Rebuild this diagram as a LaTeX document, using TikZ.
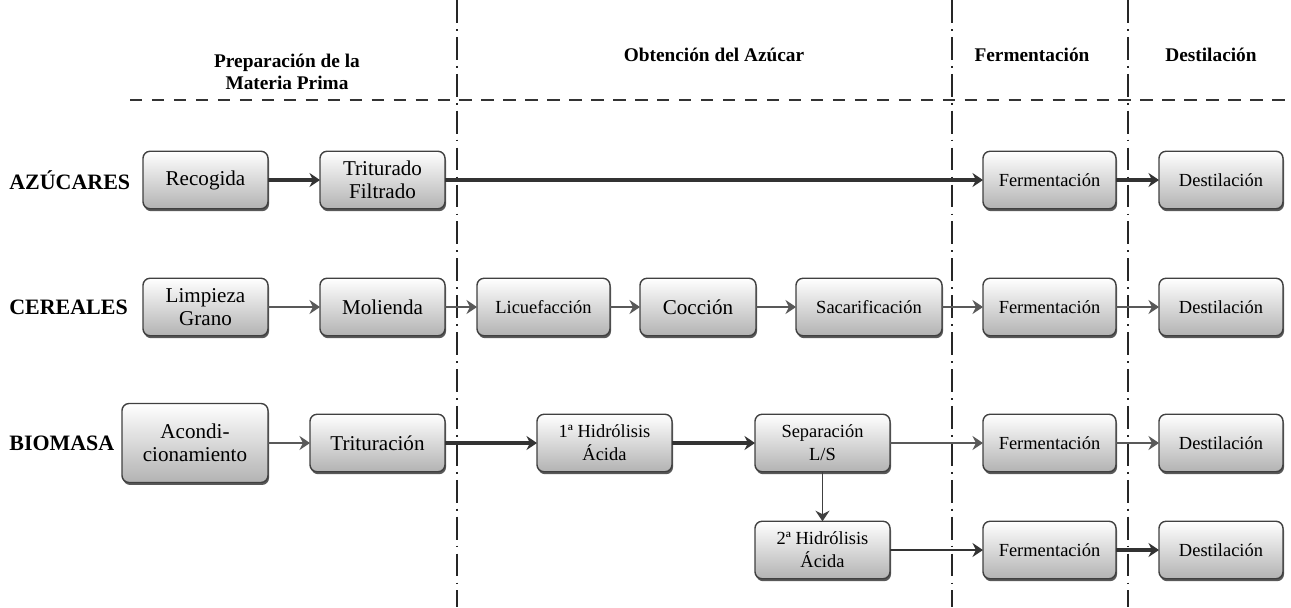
\documentclass[tikz,border=0pt]{standalone}
\usepackage{fontspec}
\setmainfont{Liberation Serif}
\usetikzlibrary{arrows.meta, positioning, shadows}

\begin{document}
\begin{tikzpicture}[font=\fontsize{12}{13}\selectfont, >={Stealth[length=6pt,width=8pt]},
    box/.style={draw=black!75, line width=0.8pt, rounded corners=4pt, top color=white, bottom color=black!30,
        minimum height=1.15cm, align=center, inner sep=2pt, outer sep=0pt,
        drop shadow={shadow xshift=0.6pt, shadow yshift=-1.4pt, fill=black!65, opacity=1}},
    sbox/.style={box, font=\fontsize{10.5}{13}\selectfont},
    fase/.style={font=\bfseries\fontsize{11}{12.5}\selectfont, align=center},
    fila/.style={font=\bfseries\fontsize{12.5}{14}\selectfont, anchor=west, inner sep=0pt},
    divisoria/.style={black!85, line width=1.6pt, dash pattern=on 13pt off 3.5pt on 1pt off 3.5pt},
    gruesa/.style={->, black!80, line width=2.2pt},
    media/.style={->, black!65, line width=1.5pt},
    fina/.style={->, black!75, line width=0.9pt}]
    \useasboundingbox (0,0) rectangle (25.82,-12.14);

    % fases
    \draw[divisoria] (9.14,0) -- (9.14,-12.14);
    \draw[divisoria] (19.04,0) -- (19.04,-12.14);
    \draw[divisoria] (22.56,0) -- (22.56,-12.14);
    \draw[black!80, line width=1.6pt, dash pattern=on 7pt off 5.5pt] (2.6,-2.0) -- (25.82,-2.0);
    \node[fase] (fprep) at (5.74,-1.44) {Preparación de la\\Materia Prima};
    \node[fase] (fobt) at (14.28,-1.1) {Obtención del Azúcar};
    \node[fase] (fferm) at (20.64,-1.1) {Fermentación};
    \node[fase] (fdest) at (24.22,-1.1) {Destilación};

    % azucares
    \node[fila] (azu) at (0.18,-3.6) {AZÚCARES};
    \node[box, minimum width=2.5cm] (rec) at (4.11,-3.6) {Recogida};
    \node[box, minimum width=2.5cm, right=1.04cm of rec] (tri) {Triturado\\Filtrado};
    \node[sbox, minimum width=2.66cm, right=10.76cm of tri] (fer1) {Fermentación};
    \node[sbox, minimum width=2.48cm, right=0.86cm of fer1] (des1) {Destilación};
    \draw[gruesa] (rec) -- (tri);
    \draw[gruesa] (tri) -- (fer1);
    \draw[gruesa] (fer1) -- (des1);

    % cereales
    \node[fila] (cer) at (0.18,-6.14) {CEREALES};
    \node[box, minimum width=2.5cm] (lim) at (4.11,-6.14) {Limpieza\\Grano};
    \node[box, minimum width=2.5cm, right=1.04cm of lim] (mol) {Molienda};
    \node[sbox, minimum width=2.66cm, right=0.64cm of mol] (lic) {Licuefacción};
    \node[box, minimum width=2.32cm, right=0.6cm of lic] (coc) {Cocción};
    \node[sbox, minimum width=2.92cm, right=0.8cm of coc] (sac) {Sacarificación};
    \node[sbox, minimum width=2.66cm, right=0.82cm of sac] (fer2) {Fermentación};
    \node[sbox, minimum width=2.48cm, right=0.86cm of fer2] (des2) {Destilación};
    \draw[media] (lim) -- (mol);
    \draw[media] (mol) -- (lic);
    \draw[media] (lic) -- (coc);
    \draw[media] (coc) -- (sac);
    \draw[media] (sac) -- (fer2);
    \draw[media] (fer2) -- (des2);

    % biomasa
    \node[fila] (bio) at (0.18,-8.86) {BIOMASA};
    \node[box, minimum width=2.92cm, minimum height=1.58cm] (aco) at (3.9,-8.86) {Acondi-\\cionamiento};
    \node[box, minimum width=2.7cm, right=0.84cm of aco] (trit) {Trituración};
    \node[sbox, minimum width=2.7cm, right=1.84cm of trit] (hid1) {1ª Hidrólisis\\Ácida};
    \node[sbox, minimum width=2.7cm, right=1.66cm of hid1] (sep) {Separación\\L/S};
    \node[sbox, minimum width=2.66cm, right=1.86cm of sep] (fer3) {Fermentación};
    \node[sbox, minimum width=2.48cm, right=0.86cm of fer3] (des3) {Destilación};
    \node[sbox, minimum width=2.7cm, below=0.99cm of sep] (hid2) {2ª Hidrólisis\\Ácida};
    \node[sbox, minimum width=2.66cm, right=1.86cm of hid2] (fer4) {Fermentación};
    \node[sbox, minimum width=2.48cm, right=0.86cm of fer4] (des4) {Destilación};
    \draw[media] (aco) -- (trit);
    \draw[gruesa] (trit) -- (hid1);
    \draw[gruesa] (hid1) -- (sep);
    \draw[media] (sep) -- (fer3);
    \draw[media] (fer3) -- (des3);
    \draw[fina] (sep) -- (hid2);
    \draw[->, black!80, line width=1.6pt] (hid2) -- (fer4);
    \draw[->, black!80, line width=1.8pt] (fer4) -- (des4);
\end{tikzpicture}
\end{document}
